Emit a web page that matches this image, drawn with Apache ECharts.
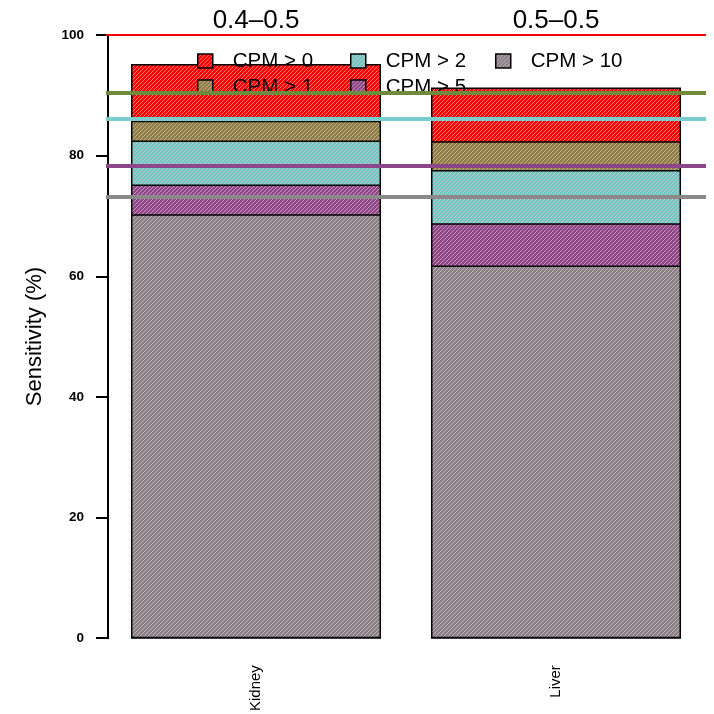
<!DOCTYPE html>
<html>
<head>
<meta charset="utf-8">
<script src="https://cdn.jsdelivr.net/npm/echarts@6/dist/echarts.min.js"></script>
<style>html,body{margin:0;padding:0;background:#fff}#c{width:714px;height:714px}</style>
</head>
<body>
<div id="c"></div>
<script>
// ---- data ----
const categories = ["Kidney", "Liver"];
const groupTitles = ["0.4\u20130.5", "0.5\u20130.5"];
const seriesNames = ["CPM > 0", "CPM > 1", "CPM > 2", "CPM > 5", "CPM > 10"];
const cpm0  = [95.2, 91.3];
const cpm1  = [85.8, 82.4];
const cpm2  = [82.5, 77.6];
const cpm5  = [75.2, 68.8];
const cpm10 = [70.3, 61.8];
const refLineValues = [100, 90.5, 86.1, 78.4, 73.2];
const yTicks = [0, 20, 40, 60, 80, 100];

// ---- styles ----
const baseColors = ["#FF0000", "#8A8045", "#70C6C2", "#8B4789", "#858388"];
const refLineColors = ["#FF0000", "#6E8B3D", "#79CDCD", "#8B4789", "#8B8989"];
const refLineWidths = [2, 4, 4, 4, 4];

function makePattern(base) {
  const c = document.createElement('canvas');
  c.width = 4; c.height = 4;
  const g = c.getContext('2d');
  g.fillStyle = base;
  g.fillRect(0, 0, 4, 4);
  g.strokeStyle = 'rgba(255,200,205,0.6)';
  g.lineWidth = 1;
  [0, 4, 8].forEach(function (k) {
    g.beginPath();
    g.moveTo(k - 5, 5);
    g.lineTo(k + 1, -1);
    g.stroke();
  });
  return { image: c, repeat: 'repeat' };
}

const values = [cpm0, cpm1, cpm2, cpm5, cpm10];
const series = seriesNames.map(function (name, i) {
  const s = {
    name: name,
    type: 'bar',
    data: values[i],
    barWidth: 250,
    barGap: '-100%',
    itemStyle: { color: makePattern(baseColors[i]), borderColor: '#000', borderWidth: 1.5 },
    emphasis: { disabled: true },
    animation: false
  };
  if (i === seriesNames.length - 1) {
    s.markLine = {
      silent: true,
      symbol: 'none',
      z: 5,
      label: { show: false },
      animation: false,
      data: refLineValues.map(function (v, j) {
        return { yAxis: v, lineStyle: { color: refLineColors[j], width: refLineWidths[j], type: 'solid' } };
      })
    };
  }
  return s;
});

const legendPos = [
  { left: 197, top: 50 },
  { left: 197, top: 76 },
  { left: 350, top: 50 },
  { left: 350, top: 76 },
  { left: 495, top: 50 }
];
const legends = seriesNames.map(function (name, i) {
  return {
    data: [name],
    left: legendPos[i].left,
    top: legendPos[i].top,
    padding: 0,
    itemWidth: 15,
    itemHeight: 14,
    selectedMode: false,
    icon: 'rect',
    itemStyle: { borderColor: '#000', borderWidth: 1.5 },
    textStyle: { fontSize: 20.5, fontFamily: 'Liberation Sans, Arial, sans-serif', color: '#000', lineHeight: 22, padding: [0, 0, 0, 15] }
  };
});

const chart = echarts.init(document.getElementById('c'), null, { renderer: 'canvas' });
chart.setOption({
  animation: false,
  backgroundColor: '#fff',
  legend: legends,
  grid: { left: 106, right: 8, top: 35, bottom: 73, containLabel: false },
  xAxis: [
    {
      type: 'category',
      data: categories,
      position: 'bottom',
      axisLine: { show: false },
      axisTick: { show: false },
      axisLabel: { rotate: 90, margin: 27, fontSize: 15, color: '#000', fontFamily: 'Liberation Sans, Arial, sans-serif' }
    },
    {
      type: 'category',
      data: groupTitles,
      position: 'top',
      axisLine: { show: false },
      axisTick: { show: false },
      axisLabel: { margin: 1, fontSize: 26, color: '#000', fontFamily: 'Liberation Sans, Arial, sans-serif' }
    }
  ],
  yAxis: {
    type: 'value',
    min: yTicks[0],
    max: yTicks[yTicks.length - 1],
    interval: 20,
    offset: -2,
    name: 'Sensitivity (%)',
    nameLocation: 'middle',
    nameGap: 62,
    nameTextStyle: { fontSize: 22, color: '#000', fontFamily: 'Liberation Sans, Arial, sans-serif' },
    axisLine: { show: true, lineStyle: { color: '#000', width: 2 } },
    axisTick: { show: true, length: 12, lineStyle: { color: '#000', width: 2 } },
    axisLabel: { margin: 24, fontSize: 13.5, fontWeight: 'bold', color: '#000', fontFamily: 'Liberation Sans, Arial, sans-serif' },
    splitLine: { show: false }
  },
  series: series
});
</script>
</body>
</html>
